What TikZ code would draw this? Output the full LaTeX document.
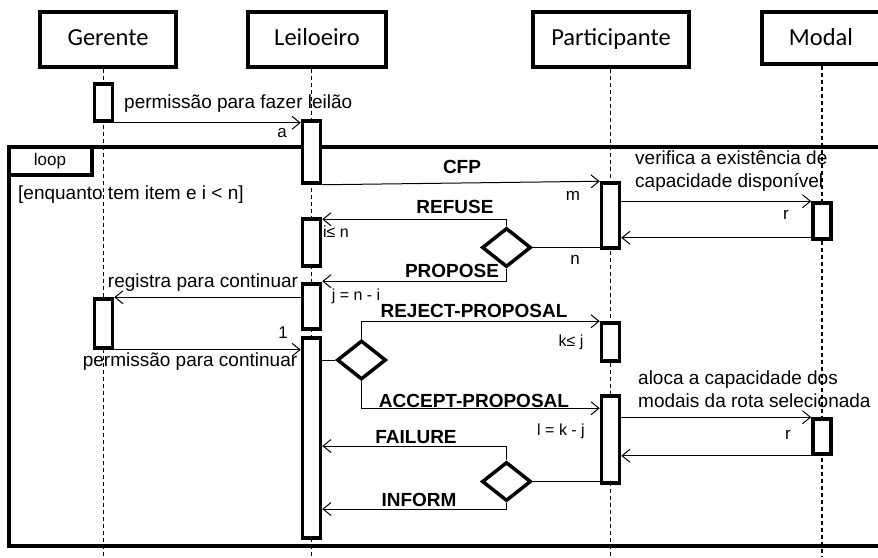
\documentclass[tikz,border=0pt]{standalone}
\usepackage{fontspec}
\setmainfont{Liberation Sans}
\newfontfamily\hdfont{Carlito}
\usetikzlibrary{arrows.meta,shapes.geometric}
\tikzset{
  head/.style={draw,line width=3.5pt,minimum height=55pt,inner sep=0pt,text height=16pt,text depth=5pt,font=\hdfont\fontsize{24.5}{28}\selectfont},
  hdtext/.style={inner sep=0pt,text height=16pt,text depth=5pt,font=\hdfont\fontsize{24.5}{28}\selectfont},
  life/.style={line width=1.1pt,dash pattern=on 4pt off 3pt},
  act/.style={draw,fill=white,line width=3.5pt,minimum width=18pt,inner sep=0pt},
  msg/.style={line width=1pt,-{Straight Barb[length=8pt,width=13pt,line width=1pt]}},
  cnd/.style={line width=1pt},
  dia/.style={draw,diamond,fill=white,line width=3.5pt,minimum width=49pt,minimum height=39pt,inner sep=0pt},
  txt/.style={inner sep=0pt,font=\fontsize{19}{23}\selectfont},
  bl/.style={inner sep=0pt,font=\bfseries\fontsize{19}{23}\selectfont},
  sm/.style={inner sep=0pt,font=\fontsize{17}{20}\selectfont},
}
\begin{document}
\begin{tikzpicture}[x=1pt,y=-1pt]
\useasboundingbox (0,0) rectangle (878,557);
% heads
\node[head,minimum width=136pt] (G) at (108,39.5) {Gerente};
\node[head,minimum width=138pt] (L) at (317,39.5) {Leiloeiro};
\node[head,minimum width=156pt] (P) at (611,39.5) {Participante};
\node[head,minimum width=140pt,minimum height=52pt] (M) at (832,38) {};
\node[hdtext] (Mt) at (821,40) {Modal};
% lifelines
\coordinate (Ge) at (103.5,557);
\coordinate (Le) at (311.5,557);
\coordinate (Pe) at (610.5,557);
\coordinate (Me) at (822,557);
\draw[life] (G.south -| Ge) -- (Ge);
\draw[life] (L.south -| Le) -- (Le);
\draw[life] (P.south -| Pe) -- (Pe);
\draw[life] (M.south -| Me) -- (Me);
% frame
\draw[line width=3.5pt] (9,147) coordinate (F1) rectangle (895,546) coordinate (F2);
\draw[line width=3.5pt] (F1) -- (9,175) -- (92,175) coordinate (T) -- (92,147);
\node[sm] (loop) at (50,161) {loop};
\node[txt,anchor=west] (guard) at (18,195) {[enquanto tem item e i < n]};
% activations
\node[act,minimum height=37pt] (ga1) at (103.5,102.5) {};
\node[act,minimum height=62pt] (la1) at (311.5,152) {};
\node[act,minimum height=65pt] (pa1) at (610.5,215.5) {};
\node[act,minimum height=36pt] (ma1) at (822,221) {};
\node[act,minimum height=47pt] (la2) at (311.5,242.5) {};
\node[act,minimum height=45pt] (la3) at (311.5,306.5) {};
\node[act,minimum height=49pt] (ga2) at (103.5,323.5) {};
\node[act,minimum height=200pt] (la4) at (311.5,438) {};
\node[act,minimum height=38pt] (pa2) at (610.5,342) {};
\node[act,minimum height=87pt] (pa3) at (610.5,439.5) {};
\node[act,minimum height=35pt] (ma2) at (822,436.5) {};
% diamonds
\node[dia] (d1) at (506.5,247.5) {};
\node[dia] (d2) at (361.5,360) {};
\node[dia] (d3) at (506.5,481.5) {};
% messages
\draw[msg] (ga1.south east) -- (la1.west |- ga1.south east);
\node[txt,anchor=west] (t1) at (124,104) {permissão para fazer leilão};
\node[sm] (ta) at (282,133) {a};

\draw[msg] (la1.south east) -- (pa1.north west);
\node[bl] (tcfp) at (462,167) {CFP};
\node[sm] (tm) at (573,196) {m};

\node[txt,anchor=west,align=left] (tv) at (635,171.5) {verifica a existência de\\capacidade disponível};
\draw[msg] ([yshift=-20pt]pa1.north east) -- (ma1.north west);
\node[sm] (tr1) at (786,215) {r};
\draw[msg] ([yshift=3pt]ma1.south west) -- ([yshift=3pt]pa1.east |- ma1.south);

\draw[cnd] (d1.east) -- (pa1.west |- d1.east);
\node[sm] (tn) at (575,260) {n};
\draw[msg] (d1.north) |- ([yshift=-2pt]la2.north east);
\node[bl] (tref) at (455,207) {REFUSE};
\node[sm,font=\fontsize{16}{19}\selectfont] (tin) at (336,232) {i≤ n};
\draw[msg] (d1.south) |- ([yshift=1pt]la3.north east);
\node[bl] (tprop) at (452,271) {PROPOSE};
\node[sm,font=\fontsize{16}{19}\selectfont] (tj) at (356,296) {j = n - i};

\draw[msg] (la3.west |- ga2.north) -- (ga2.north east);
\node[txt] (treg) at (203,283) {registra para continuar};
\draw[msg] (ga2.south east) -- (la4.west |- ga2.south);
\node[sm] (t1b) at (283,333) {1};
\node[txt] (tperm) at (190,362) {permissão para continuar};

\draw[cnd] (la4.east |- d2.west) -- (d2.west);
\draw[msg] (d2.north) |- (pa2.north west);
\node[bl] (trej) at (474,311) {REJECT-PROPOSAL};
\node[sm,font=\fontsize{16}{19}\selectfont] (tk) at (571,342) {k≤ j};
\draw[msg] (d2.south) |- ([yshift=-14pt]pa3.north west);
\node[bl] (tacc) at (474,401) {ACCEPT-PROPOSAL};
\node[sm,font=\fontsize{16}{19}\selectfont] (tl) at (561,431) {l = k - j};

\node[txt,anchor=west,align=left] (tal) at (638,389.5) {aloca a capacidade dos\\modais da rota selecionada};
\draw[msg] (pa3.east |- ma2.north) -- (ma2.north west);
\node[sm] (tr2) at (788,435) {r};
\draw[msg] (ma2.south west) -- (pa3.east |- ma2.south);

\draw[cnd] (d3.east) -- (pa3.west |- d3.east);
\draw[msg] (d3.north) |- (la4.east |- 0,446);
\node[bl] (tfail) at (416,437) {FAILURE};
\draw[msg] (d3.south) |- (la4.east |- 0,509);
\node[bl] (tinf) at (419,500) {INFORM};
\end{tikzpicture}
\end{document}
